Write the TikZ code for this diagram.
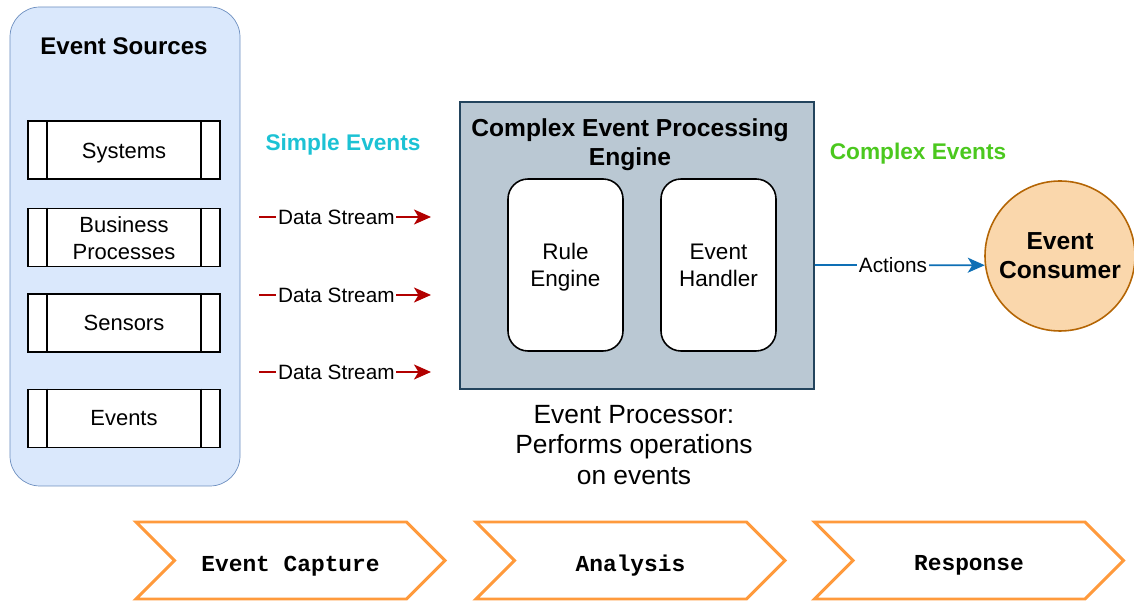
\documentclass[tikz,border=0pt]{standalone}
\usepackage{fontspec}
\setmainfont{Liberation Sans}
\setmonofont{Liberation Mono}
\usetikzlibrary{arrows.meta,shapes.symbols,positioning,calc}

\definecolor{srcfill}{HTML}{DAE8FC}
\definecolor{srcline}{HTML}{6C8EBF}
\definecolor{cepfill}{HTML}{BAC8D3}
\definecolor{cepline}{HTML}{23445D}
\definecolor{confill}{HTML}{FAD7AC}
\definecolor{conline}{HTML}{B46504}
\definecolor{streamred}{HTML}{B20000}
\definecolor{actblue}{HTML}{0E6FB5}
\definecolor{simplecyan}{HTML}{1CC2D4}
\definecolor{complexgreen}{HTML}{4BC81E}
\definecolor{phaseorange}{HTML}{FF9A3C}

\newcommand{\lowtext}[2]{\raisebox{-#1}[\height][\depth]{#2}}
\newcommand{\twolines}[2]{\begin{tabular}{@{}c@{}}#1\\#2\end{tabular}}

\begin{document}
\begin{tikzpicture}[
    procbox/.style={draw, line width=0.9pt, fill=white, minimum width=3.84cm, minimum height=1.16cm,
        align=center, font=\fontsize{12.5}{15.4}\selectfont},
    innerbox/.style={draw, line width=0.9pt, fill=white, rounded corners=0.4cm, minimum width=2.3cm,
        minimum height=3.44cm, align=center, font=\fontsize{12.8}{15.4}\selectfont},
    stream/.style={draw=streamred, line width=1.1pt, -{Stealth[length=0.34cm, width=0.3cm, inset=0.09cm]}},
    actarrow/.style={draw=actblue, line width=1pt, -{Stealth[length=0.34cm, width=0.3cm, inset=0.09cm]}},
    lbl/.style={fill=white, inner sep=1pt, font=\fontsize{11.8}{14}\selectfont},
    phase/.style={draw=phaseorange, line width=1.7pt, fill=white, signal, signal to=east, signal from=west,
        minimum width=6.18cm, minimum height=1.54cm, font=\ttfamily\bfseries\fontsize{13}{15}\selectfont},
]
    \useasboundingbox (0,0) rectangle (22.68,-12.02);

    % event sources
    \node[draw=srcline, fill=srcfill, rounded corners=0.6cm, minimum width=4.6cm, minimum height=9.58cm] (src) at (2.5,-4.93) {};
    \node[font=\bfseries\fontsize{13.7}{16}\selectfont] (srctitle) at (2.48,-0.92) {Event Sources};

    \node[procbox] (sys) at (2.48,-3.0) {\lowtext{2pt}{Systems}};
    \node[procbox, inner ysep=0pt] (bp) at (2.48,-4.75) {\lowtext{1.5pt}{\twolines{Business}{Processes}}};
    \node[procbox] (sen) at (2.48,-6.46) {Sensors};
    \node[procbox] (ev) at (2.48,-8.37) {Events};
    \foreach \n in {sys,bp,sen,ev} {
        \draw[line width=0.9pt] ([xshift=0.4cm]\n.north west) -- ([xshift=0.4cm]\n.south west);
        \draw[line width=0.9pt] ([xshift=-0.4cm]\n.north east) -- ([xshift=-0.4cm]\n.south east);
    }

    % data streams
    \node[font=\bfseries\fontsize{12.9}{15}\selectfont, text=simplecyan] (simple) at (6.86,-2.9) {Simple Events};
    \foreach \i/\y in {1/-4.34,2/-5.9,3/-7.44} {
        \coordinate (ds\i) at (5.18,\y);
        \coordinate (de\i) at (8.62,\y);
        \draw[stream] (ds\i) -- node[lbl, pos=0.45] {Data Stream} (de\i);
    }

    % processing engine
    \node[draw=cepline, line width=0.9pt, fill=cepfill, minimum width=7.08cm, minimum height=5.74cm] (cep) at (12.74,-4.91) {};
    \node[align=center, font=\bfseries\fontsize{14}{16.5}\selectfont] (ceptitle) at (12.6,-2.9) {Complex Event Processing\\Engine};
    \node[innerbox] (rule) at (11.31,-5.3) {\lowtext{1.7pt}{\twolines{Rule}{Engine}}};
    \node[innerbox] (handler) at (14.37,-5.3) {\lowtext{1.7pt}{\twolines{Event}{Handler}}};
    \node[align=center, font=\fontsize{15}{17.2}\selectfont] (procnote) at (12.68,-8.9) {Event Processor:\\Performs operations\\on events};

    % consumer
    \node[font=\bfseries\fontsize{12.9}{15}\selectfont, text=complexgreen] (complex) at (18.36,-3.08) {Complex Events};
    \node[circle, draw=conline, line width=0.9pt, fill=confill, minimum size=3cm, align=center,
        font=\bfseries\fontsize{14}{16.5}\selectfont] (cons) at (21.2,-5.12) {Event\\Consumer};
    \draw[actarrow] ([yshift=-0.39cm]cep.east) -- node[lbl, pos=0.46] {Actions} (cons.187);

    % phases
    \node[phase] (capture) at (5.81,-11.21) {\lowtext{3pt}{Event Capture}};
    \node[phase] (analysis) at (12.61,-11.21) {\lowtext{3pt}{Analysis}};
    \node[phase] (response) at (19.38,-11.21) {\lowtext{3pt}{Response}};
\end{tikzpicture}
\end{document}
